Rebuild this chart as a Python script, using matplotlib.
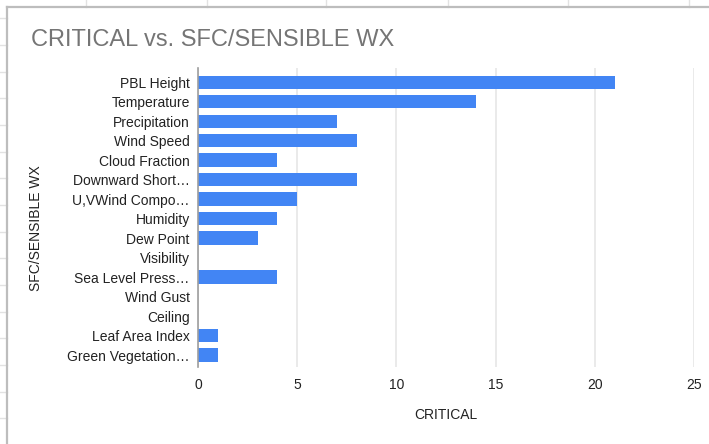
import matplotlib
matplotlib.use("Agg")
import matplotlib.pyplot as plt
from matplotlib.lines import Line2D

# Counts of CRITICAL ratings per surface / sensible weather variable
categories = [
    "PBL Height", "Temperature", "Precipitation", "Wind Speed", "Cloud Fraction",
    "Downward Short\u2026", "U,VWind Compo\u2026", "Humidity", "Dew Point", "Visibility",
    "Sea Level Press\u2026", "Wind Gust", "Ceiling", "Leaf Area Index", "Green Vegetation\u2026",
]
critical = [21, 14, 7, 8, 4, 8, 5, 4, 3, 0, 4, 0, 0, 1, 1]
x_ticks = [0, 5, 10, 15, 20, 25]

plt.rcParams["font.family"] = ["Liberation Sans", "DejaVu Sans"]

W, H = 709, 444
fig = plt.figure(figsize=(W / 100, H / 100), dpi=100)
fig.patch.set_facecolor("white")

# Surrounding sheet frame: cell grid stubs and the chart border
grid_c = "#e2e2e2"
y = 18.5
while y < H:
    fig.add_artist(Line2D([0, 7 / W], [1 - y / H, 1 - y / H], color=grid_c, lw=1,
                          transform=fig.transFigure))
    y += 26.65
for xs in [86, 207, 326, 448, 568, 689]:
    fig.add_artist(Line2D([xs / W, xs / W], [1, 1 - 7 / H], color=grid_c, lw=1,
                          transform=fig.transFigure))
fig.add_artist(Line2D([7 / W, 7 / W], [0, 1 - 7 / H], color="#bdbdbd", lw=1.6,
                      transform=fig.transFigure))
fig.add_artist(Line2D([7 / W, 1], [1 - 7 / H, 1 - 7 / H], color="#bdbdbd", lw=1.6,
                      transform=fig.transFigure))

left, right, top, bottom = 198, 694, 68, 367
ax = fig.add_axes([left / W, 1 - bottom / H, (right - left) / W, (bottom - top) / H])

pos = list(range(len(categories)))
ax.barh(pos, critical, height=0.67, color="#4285f4", zorder=3)
ax.set_ylim(14.615, -0.72)
ax.set_xlim(0, 25)

ax.set_yticks(pos)
ax.set_yticklabels(categories, fontsize=10, color="#222222")
ax.set_xticks(x_ticks)
ax.set_xticklabels([str(t) for t in x_ticks], fontsize=10, color="#222222")
ax.tick_params(axis="y", length=0, pad=6)
ax.tick_params(axis="x", length=0, pad=8)

ax.grid(axis="x", color="#e6e6e6", lw=1.2, zorder=0)
for s in ["top", "right", "bottom"]:
    ax.spines[s].set_visible(False)
ax.spines["left"].set_color("#9e9e9e")
ax.spines["left"].set_linewidth(1.2)
ax.spines["left"].set_zorder(4)

fig.text(31 / W, 1 - 40 / H, "CRITICAL vs. SFC/SENSIBLE WX", fontsize=17,
         color="#757575", va="center", ha="left")
fig.text(446 / W, 1 - 415 / H, "CRITICAL", fontsize=10, color="#222222",
         ha="center", va="center")
fig.text(36 / W, 1 - 228 / H, "SFC/SENSIBLE WX", fontsize=10, color="#222222",
         ha="center", va="center", rotation=90)

fig.savefig("out.png", dpi=100, facecolor="white")
